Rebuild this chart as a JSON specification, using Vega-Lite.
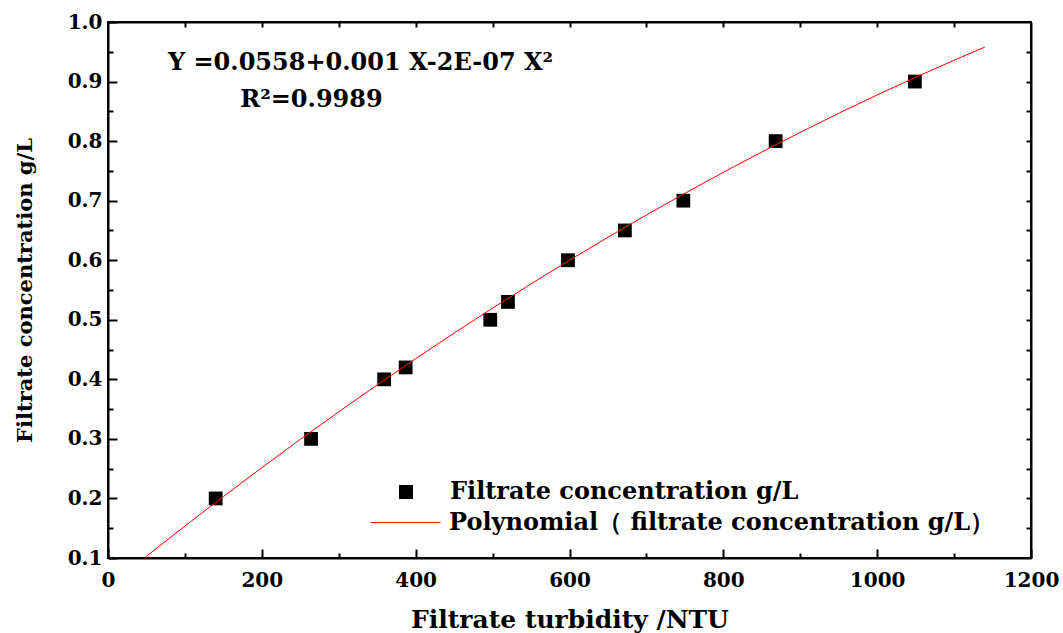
{
  "$schema": "https://vega.github.io/schema/vega-lite/v6.json",
  "width": 923,
  "height": 536,
  "autosize": {"type": "none"},
  "padding": {"left": 108, "top": 22, "right": 32, "bottom": 75},
  "background": "white",
  "config": {
    "view": {"stroke": "black", "strokeWidth": 2},
    "font": "DejaVu Serif",
    "axis": {
      "domainColor": "black",
      "domainWidth": 2,
      "tickColor": "black",
      "tickWidth": 2,
      "grid": false,
      "labelFont": "DejaVu Serif",
      "labelFontWeight": "bold",
      "labelFontSize": 20,
      "labelColor": "black",
      "titleFont": "DejaVu Serif",
      "titleFontWeight": "bold",
      "titleColor": "black"
    },
    "legend": {
      "padding": 0,
      "title": null,
      "labelFont": "DejaVu Serif",
      "labelFontWeight": "bold",
      "labelFontSize": 24,
      "labelColor": "black",
      "labelLimit": 800
    }
  },
  "datasets": {
    "pts": [
      {"turb": 140, "conc": 0.2, "series": "Filtrate concentration g/L"},
      {"turb": 264, "conc": 0.3, "series": "Filtrate concentration g/L"},
      {"turb": 359, "conc": 0.4, "series": "Filtrate concentration g/L"},
      {"turb": 387, "conc": 0.42, "series": "Filtrate concentration g/L"},
      {"turb": 497, "conc": 0.5, "series": "Filtrate concentration g/L"},
      {"turb": 520, "conc": 0.53, "series": "Filtrate concentration g/L"},
      {"turb": 598, "conc": 0.6, "series": "Filtrate concentration g/L"},
      {"turb": 672, "conc": 0.65, "series": "Filtrate concentration g/L"},
      {"turb": 748, "conc": 0.7, "series": "Filtrate concentration g/L"},
      {"turb": 868, "conc": 0.8, "series": "Filtrate concentration g/L"},
      {"turb": 1049, "conc": 0.9, "series": "Filtrate concentration g/L"}
    ],
    "fit": [
      {"turb": 50, "conc": 0.1029, "series": "Polynomial（ filtrate concentration g/L）"},
      {"turb": 100, "conc": 0.1536, "series": "Polynomial（ filtrate concentration g/L）"},
      {"turb": 150, "conc": 0.2032, "series": "Polynomial（ filtrate concentration g/L）"},
      {"turb": 200, "conc": 0.2517, "series": "Polynomial（ filtrate concentration g/L）"},
      {"turb": 250, "conc": 0.2991, "series": "Polynomial（ filtrate concentration g/L）"},
      {"turb": 300, "conc": 0.3454, "series": "Polynomial（ filtrate concentration g/L）"},
      {"turb": 350, "conc": 0.3906, "series": "Polynomial（ filtrate concentration g/L）"},
      {"turb": 400, "conc": 0.4347, "series": "Polynomial（ filtrate concentration g/L）"},
      {"turb": 450, "conc": 0.4777, "series": "Polynomial（ filtrate concentration g/L）"},
      {"turb": 500, "conc": 0.5195, "series": "Polynomial（ filtrate concentration g/L）"},
      {"turb": 550, "conc": 0.5603, "series": "Polynomial（ filtrate concentration g/L）"},
      {"turb": 600, "conc": 0.6, "series": "Polynomial（ filtrate concentration g/L）"},
      {"turb": 650, "conc": 0.6385, "series": "Polynomial（ filtrate concentration g/L）"},
      {"turb": 700, "conc": 0.676, "series": "Polynomial（ filtrate concentration g/L）"},
      {"turb": 750, "conc": 0.7123, "series": "Polynomial（ filtrate concentration g/L）"},
      {"turb": 800, "conc": 0.7476, "series": "Polynomial（ filtrate concentration g/L）"},
      {"turb": 850, "conc": 0.7817, "series": "Polynomial（ filtrate concentration g/L）"},
      {"turb": 900, "conc": 0.8147, "series": "Polynomial（ filtrate concentration g/L）"},
      {"turb": 950, "conc": 0.8467, "series": "Polynomial（ filtrate concentration g/L）"},
      {"turb": 1000, "conc": 0.8775, "series": "Polynomial（ filtrate concentration g/L）"},
      {"turb": 1050, "conc": 0.9072, "series": "Polynomial（ filtrate concentration g/L）"},
      {"turb": 1100, "conc": 0.9358, "series": "Polynomial（ filtrate concentration g/L）"},
      {"turb": 1140, "conc": 0.9579, "series": "Polynomial（ filtrate concentration g/L）"}
    ],
    "notes": [
      {"turb": 78, "conc": 0.931, "label": "Y =0.0558+0.001 X-2E-07 X²"},
      {"turb": 172, "conc": 0.869, "label": "R²=0.9989"}
    ]
  },
  "layer": [
    {
      "data": {"name": "pts"},
      "mark": {"type": "point", "size": 190, "filled": true, "opacity": 1, "color": "black"},
      "encoding": {
        "x": {
          "field": "turb", "type": "quantitative",
          "scale": {"domain": [0, 1200], "nice": false, "zero": false},
          "axis": {
            "orient": "bottom",
            "title": "Filtrate turbidity /NTU",
            "titleFontSize": 25,
            "titlePadding": 13,
            "values": [0, 100, 200, 300, 400, 500, 600, 700, 800, 900, 1000, 1100, 1200],
            "labelExpr": "datum.value % 200 === 0 ? datum.label : ''",
            "format": "d",
            "tickSize": {"condition": {"test": "datum.value % 200 === 0", "value": -9}, "value": -5},
            "labelPadding": 21,
            "labelFlush": false,
            "labelOverlap": false
          }
        },
        "y": {
          "field": "conc", "type": "quantitative",
          "scale": {"domain": [0.1, 1.0], "nice": false, "zero": false},
          "axis": {
            "orient": "left",
            "title": "Filtrate concentration g/L",
            "titleFontSize": 21,
            "titlePadding": 32,
            "values": [0.1, 0.15, 0.2, 0.25, 0.3, 0.35, 0.4, 0.45, 0.5, 0.55, 0.6, 0.65, 0.7, 0.75, 0.8, 0.85, 0.9, 0.95, 1.0],
            "labelExpr": "round(datum.value * 100) % 10 === 0 ? format(datum.value, '.1f') : ''",
            "tickSize": {"condition": {"test": "round(datum.value * 100) % 10 === 0", "value": -9}, "value": -5},
            "labelPadding": 15,
            "labelFlush": false,
            "labelOverlap": false
          }
        },
        "shape": {
          "field": "series", "type": "nominal",
          "scale": {"domain": ["Filtrate concentration g/L"], "range": ["square"]},
          "legend": {
            "orient": "none",
            "legendX": 286,
            "legendY": 458,
            "symbolSize": 196,
            "symbolFillColor": "black",
            "symbolStrokeColor": "black",
            "symbolStrokeWidth": 0,
            "symbolOpacity": 1,
            "labelOffset": 32
          }
        }
      }
    },
    {
      "data": {"name": "fit"},
      "mark": {"type": "line", "strokeWidth": 1, "interpolate": "monotone"},
      "encoding": {
        "x": {
          "field": "turb", "type": "quantitative",
          "axis": {
            "orient": "top",
            "title": null,
            "labels": false,
            "values": [100, 200, 300, 400, 500, 600, 700, 800, 900, 1000, 1100],
            "tickSize": -5
          }
        },
        "y": {
          "field": "conc", "type": "quantitative",
          "axis": {
            "orient": "right",
            "title": null,
            "labels": false,
            "values": [0.15, 0.2, 0.25, 0.3, 0.35, 0.4, 0.45, 0.5, 0.55, 0.6, 0.65, 0.7, 0.75, 0.8, 0.85, 0.9, 0.95],
            "tickSize": -5
          }
        },
        "stroke": {
          "field": "series", "type": "nominal",
          "scale": {"domain": ["Polynomial（ filtrate concentration g/L）"], "range": ["#ff0000"]},
          "legend": {
            "orient": "none",
            "legendX": 262,
            "legendY": 465,
            "symbolType": "stroke",
            "symbolSize": 4900,
            "symbolStrokeWidth": 1,
            "labelOffset": 8
          }
        }
      }
    },
    {
      "data": {"name": "notes"},
      "mark": {"type": "text", "align": "left", "baseline": "middle", "font": "DejaVu Serif", "fontWeight": "bold", "fontSize": 24, "color": "black"},
      "encoding": {
        "x": {"field": "turb", "type": "quantitative", "axis": null},
        "y": {"field": "conc", "type": "quantitative", "axis": null},
        "text": {"field": "label"}
      }
    }
  ],
  "resolve": {"axis": {"x": "independent", "y": "independent"}}
}
